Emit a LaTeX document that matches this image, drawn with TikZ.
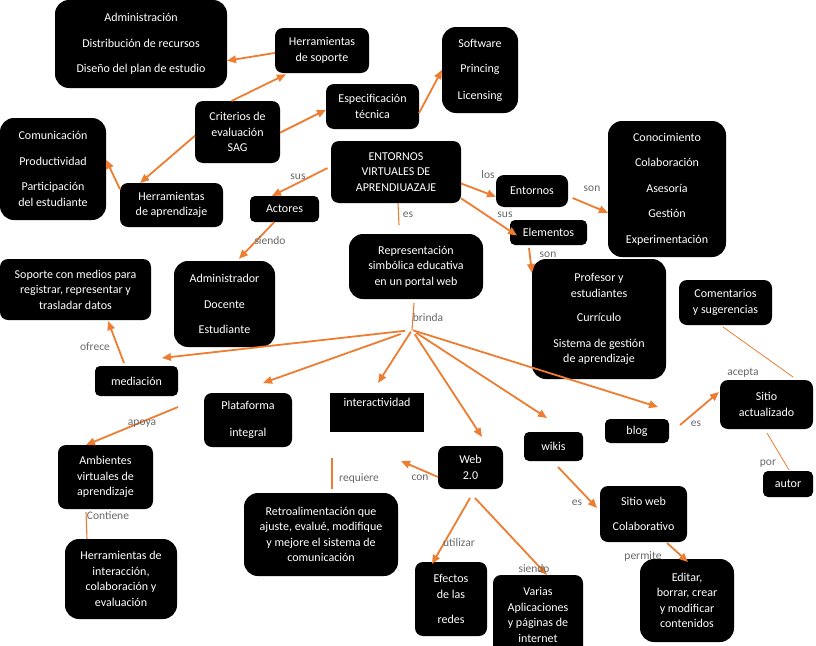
\documentclass[tikz,border=0pt]{standalone}
\usepackage{fontspec}
\setmainfont{Carlito}
\usetikzlibrary{arrows.meta}
\definecolor{conn}{RGB}{237,125,49}
\definecolor{lblgray}{RGB}{105,105,105}
\newcommand{\boxfont}{\fontsize{12}{15.5}\selectfont}
\newcommand{\lblfont}{\fontsize{11.5}{14}\selectfont}
\tikzset{
  box/.style={fill=black, rounded corners=8pt, text=white, align=center, font=\boxfont, inner sep=0pt, outer sep=0pt},
  bigbox/.style={box, rounded corners=14pt},
  smallbox/.style={box, rounded corners=5pt},
  lbl/.style={text=lblgray, font=\lblfont, inner sep=0pt},
  arr/.style={draw=conn, line width=1.8pt, -{Triangle[length=9pt,width=7.5pt]}},
  thinline/.style={draw=conn, line width=0.8pt},
  midline/.style={draw=conn, line width=1.1pt}
}
\begin{document}
\begin{tikzpicture}[x=1pt,y=-1pt]
\useasboundingbox (0,0) rectangle (816,645);
\fill[white] (0,0) rectangle (816,645);
\clip (0,0) rectangle (816,645);

% ---------- boxes ----------
\node[bigbox, minimum width=172, minimum height=88] (admin) at (141,44) {Administración\\[10pt]Distribución de recursos\\[10pt]Diseño del plan de estudio};
\node[box, minimum width=94, minimum height=45] (hsop) at (322,50.5) {Herramientas\\de soporte};
\node[box, minimum width=93, minimum height=45] (espec) at (372.5,106.5) {Especificación\\técnica};
\node[bigbox, minimum width=76, minimum height=86] (soft) at (480,70) {Software\\[10pt]Princing\\[11pt]Licensing};
\node[box, minimum width=85, minimum height=62] (crit) at (237.5,132) {Criterios de\\evaluación\\SAG};
\node[bigbox, minimum width=106, minimum height=102] (comun) at (53,169) {Comunicación\\[10pt]Productividad\\[10pt]Participación\\del estudiante};
\node[box, minimum width=103, minimum height=44] (haprend) at (171.5,205) {Herramientas\\de aprendizaje};
\node[smallbox, minimum width=69, minimum height=26] (actores) at (284.5,209) {Actores};
\node[box, minimum width=130, minimum height=62] (entV) at (396,172) {ENTORNOS\\VIRTUALES DE\\APRENDIUAZAJE};
\node[box, minimum width=72, minimum height=32] (entornos) at (532,191) {Entornos};
\node[smallbox, minimum width=77, minimum height=25] (elementos) at (548.5,232.5) {Elementos};
\node[bigbox, minimum width=118, minimum height=136] (conoc) at (667,189) {Conocimiento\\[10pt]Colaboración\\[10pt]Asesoría\\[10pt]Gestión\\[10pt]Experimentación};
\node[bigbox, minimum width=134, minimum height=65] (repres) at (416,266.5) {Representación\\simbólica educativa\\en un portal web};
\node[bigbox, minimum width=101, minimum height=86] (admdoc) at (224.5,304) {Administrador\\[10pt]Docente\\[10pt]Estudiante};
\node[box, minimum width=151, minimum height=61] (soporte) at (75.5,289.5) {Soporte con medios para\\registrar, representar y\\trasladar datos};
\node[bigbox, minimum width=134, minimum height=120] (profesor) at (599,319) {Profesor y\\estudiantes\\[9pt]Currículo\\[10pt]Sistema de gestión\\de aprendizaje};
\node[box, minimum width=93, minimum height=45] (coment) at (725.5,302.5) {Comentarios\\y sugerencias};
\node[box, minimum width=93, minimum height=49] (sitioact) at (766.5,404.5) {Sitio\\actualizado};
\node[smallbox, minimum width=83, minimum height=30] (mediacion) at (136.5,381) {mediación};
\node[box, minimum width=88, minimum height=54] (plataf) at (248,420) {Plataforma\\[11pt]integral};
\node[box, rounded corners=0pt, minimum width=94, minimum height=39] (interact) at (377,412.5) {interactividad\\\strut};
\node[box, minimum width=65, minimum height=43] (web) at (470.5,467.5) {Web\\2.0};
\node[smallbox, minimum width=59, minimum height=29] (wikis) at (553.5,446.5) {wikis};
\node[smallbox, minimum width=64, minimum height=24] (blog) at (637,431) {blog};
\node[smallbox, minimum width=50, minimum height=26] (autor) at (788,484) {autor};
\node[box, minimum width=95, minimum height=64] (ambient) at (105.5,477) {Ambientes\\virtuales de\\aprendizaje};
\node[bigbox, minimum width=112, minimum height=80] (hinter) at (121,579) {Herramientas de\\interacción,\\colaboración y\\evaluación};
\node[bigbox, minimum width=154, minimum height=83] (retro) at (321,534.5) {Retroalimentación que\\ajuste, evalué, modifique\\y mejore el sistema de\\comunicación};
\node[box, minimum width=87, minimum height=56] (sitioweb) at (643.5,514) {Sitio web\\[10pt]Colaborativo};
\node[box, minimum width=72, minimum height=74] (efectos) at (451,599) {Efectos\\de las\\[10pt]redes};
\node[box, minimum width=90, minimum height=80] (varias) at (538,615) {Varias\\Aplicaciones\\y páginas de\\internet};
\node[bigbox, minimum width=94, minimum height=83] (editar) at (687,600.5) {Editar,\\borrar, crear\\y modificar\\contenidos};

% ---------- free coordinates ----------
\coordinate (br) at (412,330);
\coordinate (esEnd) at (399,225);
\coordinate (conEnd) at (401,461);
\coordinate (reqStart) at (332,458);
\coordinate (apStart) at (178,407);

% ---------- connectors ----------
\draw[arr] (hsop.183) -- (admin.-11);
\draw[arr, shorten >=3pt] (crit.101) -- (hsop.214);
\draw[arr] (crit.-1) -- (espec.184);
\draw[arr] (espec.-8) -- (soft.west);
\draw[arr] (crit.185) -- (haprend.145);
\draw[arr] (haprend.163) -- (comun.10);
\draw[arr, shorten <=4pt] (entV.175) -- (actores.134);
\draw[arr, shorten >=3pt] (actores.-128) -- (admdoc.74);
\draw[midline] ([shift={(2,0)}]entV.south) -- (esEnd);
\draw[arr] (entV.-10) -- (entornos.189);
\draw[arr] (entV.-22) -- ([shift={(7,3)}]elementos.west);
\draw[arr, shorten <=5pt] (entornos.-8) -- (conoc.202);
\draw[arr] ([shift={(-19.5,3)}]elementos.south) -- ([shift={(0,14)}]profesor.north west);
\draw[midline] ([shift={(-2,4)}]repres.south) -- (br);
\draw[arr, shorten <=7pt] (br) -- ([shift={(25.5,-8)}]mediacion.north);
\draw[arr, shorten <=12pt] (br) -- ([shift={(15,-10)}]plataf.north);
\draw[arr, shorten <=2pt] (br) -- ([shift={(1,-10)}]interact.north);
\draw[arr, shorten <=5pt] (br) -- ([shift={(11.5,-9)}]web.north);
\draw[arr, shorten <=5pt] (br) -- ([shift={(-6.5,-14)}]wikis.north);
\draw[arr, shorten <=1pt] (br) -- ([shift={(21,-12)}]blog.north);
\draw[arr] ([shift={(-12.5,-3)}]mediacion.north) -- ([shift={(32.5,1)}]soporte.south);
\draw[arr] (apStart) -- ([shift={(-19.5,0)}]ambient.north);
\draw[midline] ([shift={(-19.5,3)}]ambient.south) -- ([shift={(-34,0)}]hinter.north);
\draw[arr] ([shift={(0,9.5)}]web.west) -- (conEnd);
\draw[midline] (reqStart) -- ([shift={(11,-4)}]retro.north);
\draw[arr] ([shift={(-0.5,9)}]web.south) -- ([shift={(-19,2)}]efectos.north);
\draw[arr] ([shift={(4.5,9)}]web.south) -- ([shift={(9,0)}]varias.north);
\draw[arr] ([shift={(4.5,6)}]wikis.south) -- ([shift={(-3,-6)}]sitioweb.west);
\draw[arr] ([shift={(23.5,1)}]sitioweb.south) -- ([shift={(1,3)}]editar.north);
\draw[arr] ([shift={(11,-6)}]blog.east) -- ([shift={(-1,-12.5)}]sitioact.west);
\draw[thinline] ([shift={(-2.5,2)}]coment.south) -- ([shift={(26.5,-3)}]sitioact.north);
\draw[thinline] ([shift={(0.5,4)}]sitioact.south) -- ([shift={(1,-1)}]autor.north);

% ---------- labels ----------
\node[lbl] (l1) at (298,177) {sus};
\node[lbl] (l2) at (270,241) {siendo};
\node[lbl] (l3) at (408,215) {es};
\node[lbl] (l4) at (488,175) {los};
\node[lbl] (l5) at (505,215) {sus};
\node[lbl] (l6) at (592,189) {son};
\node[lbl] (l7) at (548,255) {son};
\node[lbl] (l8) at (428,318) {brinda};
\node[lbl] (l9) at (95,347) {ofrece};
\node[lbl] (l10) at (142,424) {apoya};
\node[lbl] (l11) at (108,516) {Contiene};
\node[lbl] (l12) at (420,478) {con};
\node[lbl] (l13) at (359,478) {requiere};
\node[lbl] (l14) at (459,543) {utilizar};
\node[lbl] (l15) at (534,569) {siendo};
\node[lbl] (l16) at (577,503) {es};
\node[lbl] (l17) at (643,556) {permite};
\node[lbl] (l18) at (696,424) {es};
\node[lbl] (l19) at (743,373) {acepta};
\node[lbl] (l20) at (768,464) {por};
\end{tikzpicture}
\end{document}
